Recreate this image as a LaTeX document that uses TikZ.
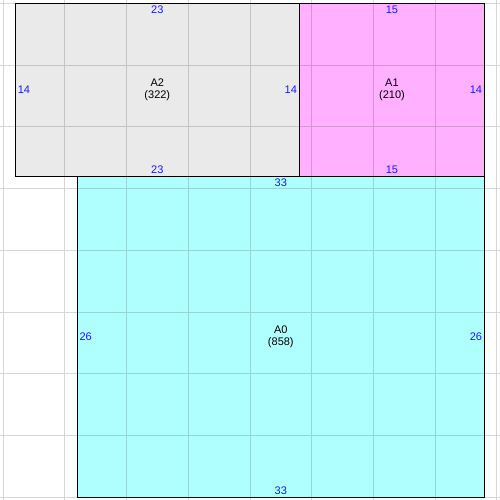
\documentclass[tikz,border=0pt]{standalone}
\usepackage{fontspec}
\setmainfont{Liberation Sans}
\definecolor{areagray}{RGB}{234,234,234}
\definecolor{areapink}{RGB}{255,176,255}
\definecolor{areacyan}{RGB}{176,255,255}
\definecolor{sizeblue}{RGB}{24,24,255}
\tikzset{
  sizelabel/.style={text=sizeblue, inner sep=1.5pt, font=\fontsize{7.6}{9}\selectfont},
  arealabel/.style={align=center, inner sep=0pt, font=\fontsize{7.6}{8.7}\selectfont},
  gridline/.style={black, opacity=0.16, line width=0.6pt}
}
\begin{document}
\begin{tikzpicture}[x=0.3cm, y=0.3cm]
\useasboundingbox (-0.24,-0.22) rectangle (40.24,40.27);
\fill[areagray] (1,26) rectangle (24,40);
\fill[areapink] (24,26) rectangle (39,40);
\fill[areacyan] (6,0) rectangle (39,26);
\draw[gridline, step=1.5cm] (-0.24,-0.22) grid (40.24,40.27);
\draw[black, line width=0.7pt] (1,26) rectangle (24,40);
\draw[black, line width=0.7pt] (24,26) rectangle (39,40);
\draw[black, line width=0.7pt] (6,0) rectangle (39,26);
\draw[black] (12.5,33) node[arealabel] (a2) {A2\\(322)};
\draw[black] (31.5,33) node[arealabel] (a1) {A1\\(210)};
\draw[black] (22.5,13) node[arealabel] (a0) {A0\\(858)};
\draw (12.5,40) node[sizelabel, anchor=north] (a2top) {23};
\draw (12.5,26) node[sizelabel, anchor=south] (a2bottom) {23};
\draw (1,33) node[sizelabel, anchor=west] (a2left) {14};
\draw (24,33) node[sizelabel, anchor=east] (a2right) {14};
\draw (31.5,40) node[sizelabel, anchor=north] (a1top) {15};
\draw (31.5,26) node[sizelabel, anchor=south] (a1bottom) {15};
\draw (39,33) node[sizelabel, anchor=east] (a1right) {14};
\draw (22.5,26) node[sizelabel, anchor=north] (a0top) {33};
\draw (22.5,0) node[sizelabel, anchor=south] (a0bottom) {33};
\draw (6,13) node[sizelabel, anchor=west] (a0left) {26};
\draw (39,13) node[sizelabel, anchor=east] (a0right) {26};
\end{tikzpicture}
\end{document}
